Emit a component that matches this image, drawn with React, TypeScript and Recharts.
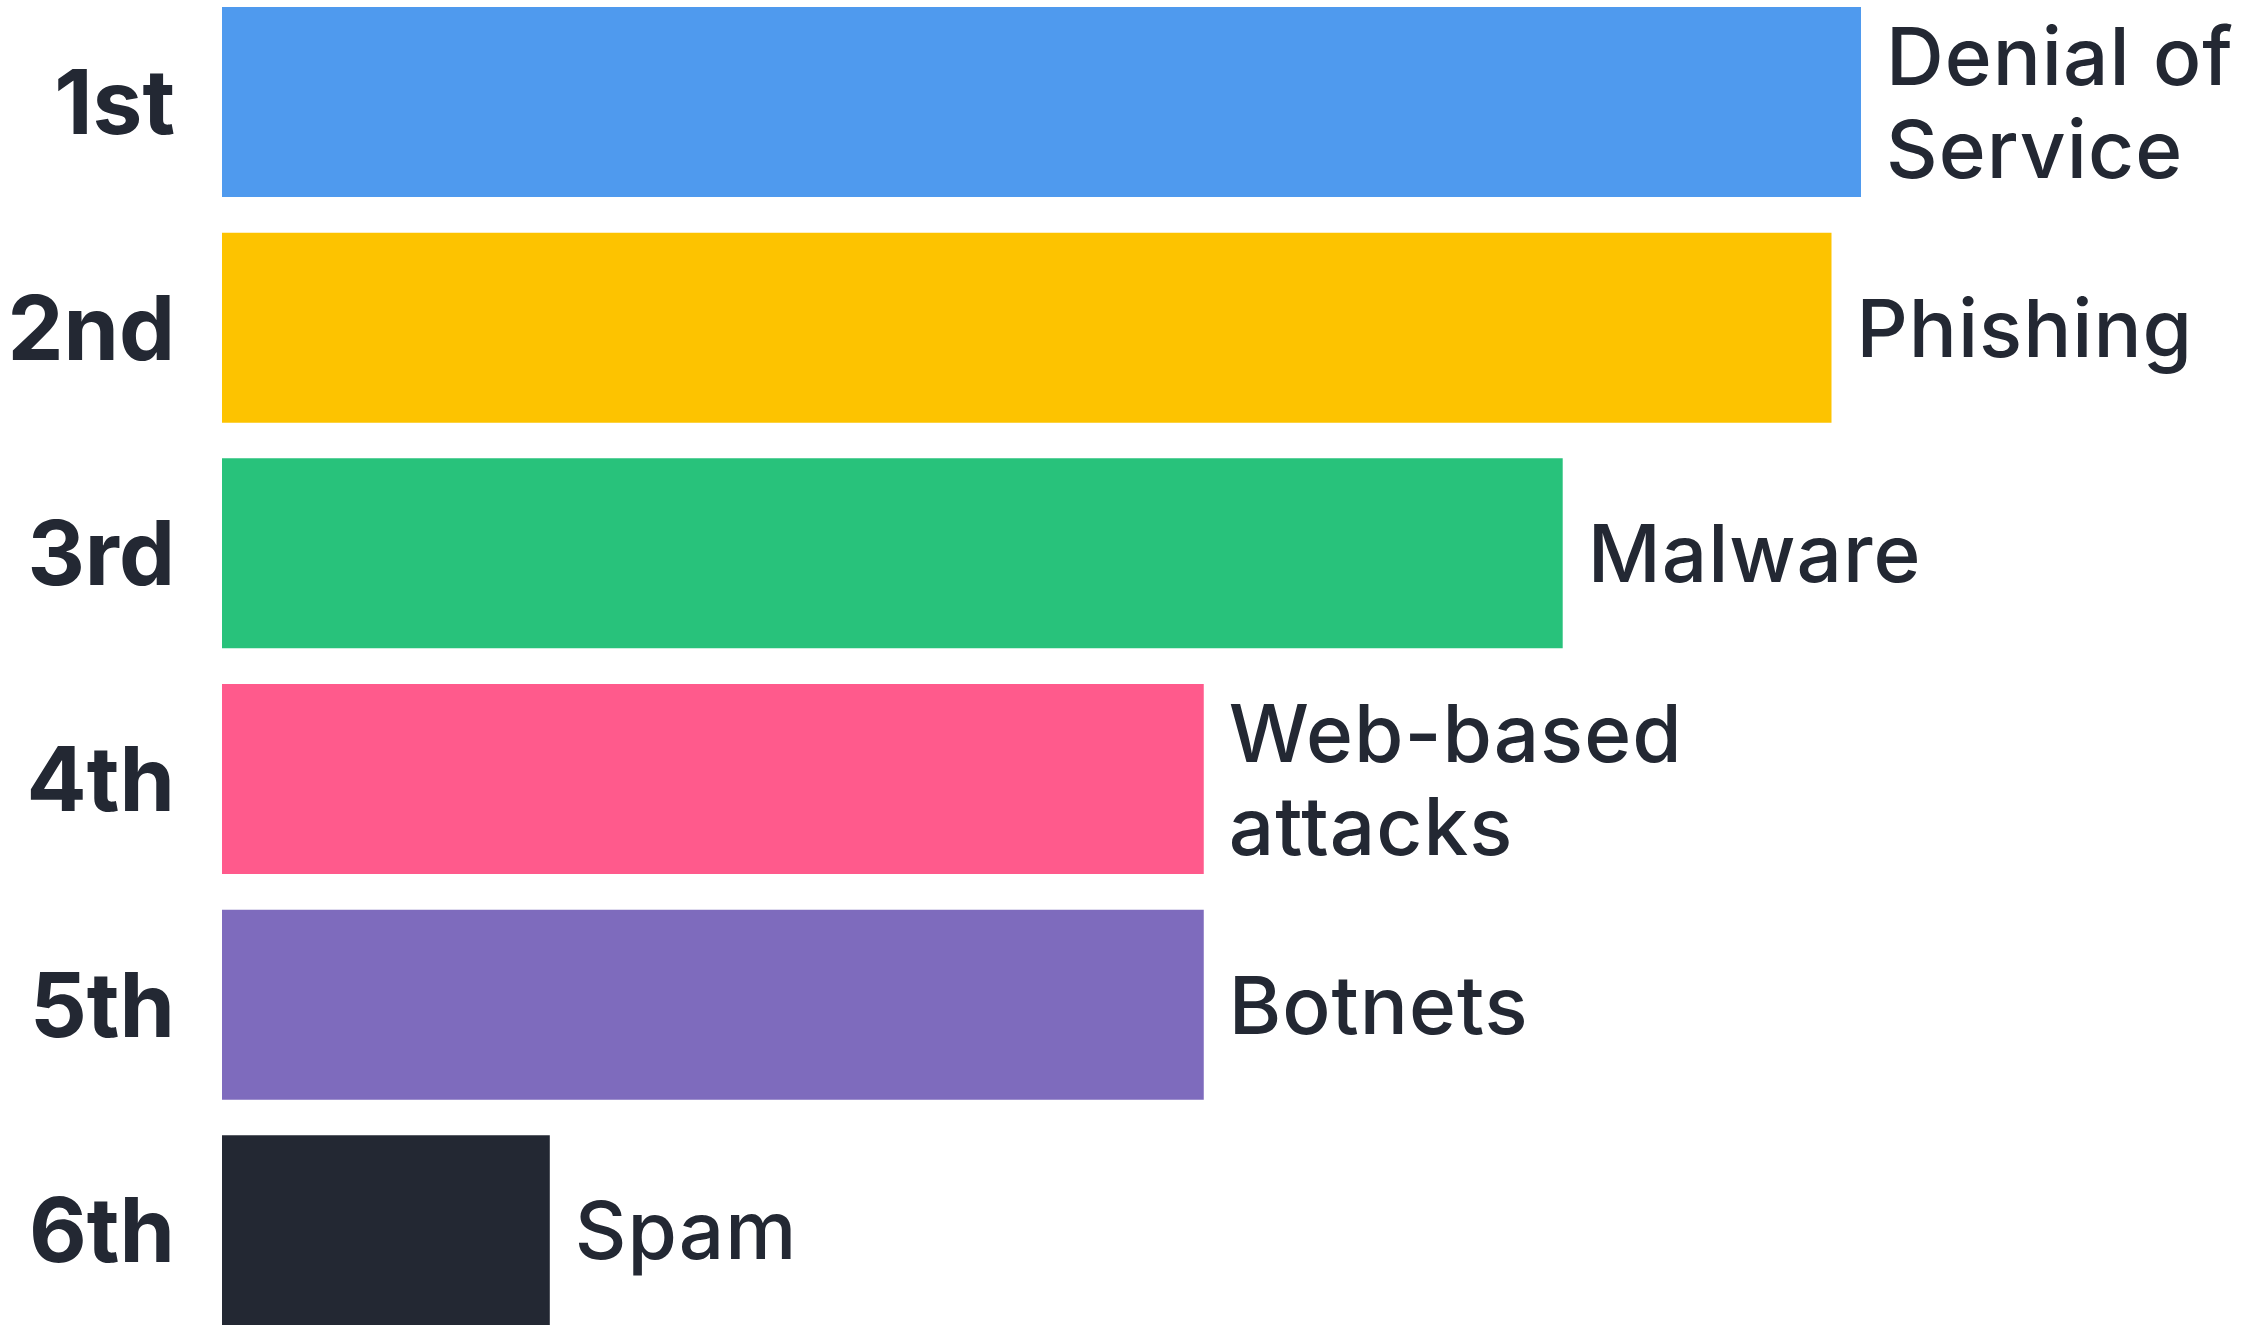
import { Bar, BarChart, Cell, LabelList, XAxis, YAxis } from "recharts";

const ranks = ["1st", "2nd", "3rd", "4th", "5th", "6th"];
const threats = [
    ["Denial of", "Service"],
    ["Phishing"],
    ["Malware"],
    ["Web-based", "attacks"],
    ["Botnets"],
    ["Spam"],
];
const scores = [100, 98.2, 81.8, 59.9, 59.9, 20];
const colors = ["#4f9aee", "#fdc300", "#28c27b", "#ff5a8c", "#7e6bbd", "#232833"];

const data = ranks.map((rank, i) => ({ rank, value: scores[i], index: i }));

const textColor = "#232833";
const font = "Inter, 'Noto Sans', sans-serif";

const RankTick = (props: any) => {
    const { y, payload } = props;
    return (
        <text x={175} y={y} dy={32} textAnchor="end" fill={textColor} fontFamily={font} fontSize={89} fontWeight={700}>
            {payload.value}
        </text>
    );
};

const ThreatLabel = (props: any) => {
    const { x, y, width, height, index } = props;
    const lines = threats[index];
    const cy = y + height / 2;
    const lx = x + width + 25;
    const baselines = lines.length === 1 ? [cy + 29] : [cy - 17.5, cy + 75.5];
    return (
        <text fill={textColor} fontFamily={font} fontSize={80} fontWeight={500} letterSpacing={1}>
            {lines.map((line, i) => (
                <tspan key={i} x={lx} y={baselines[i]}>
                    {line}
                </tspan>
            ))}
        </text>
    );
};

const App = () => {
    return (
        <div style={{ position: "absolute", left: 0, top: 0, width: 2254, height: 1325, overflow: "hidden", background: "#fff" }}>
            <div style={{ marginTop: -11 }}>
                <BarChart width={2254} height={1354} data={data} layout="vertical" margin={{ top: 0, right: 393, bottom: 0, left: 0 }}>
                    <XAxis type="number" domain={[0, 100]} hide />
                    <YAxis type="category" dataKey="rank" width={222} axisLine={false} tickLine={false} tick={<RankTick />} interval={0} />
                    <Bar dataKey="value" barSize={190} isAnimationActive={false}>
                        {data.map((d, i) => (
                            <Cell key={d.rank} fill={colors[i]} />
                        ))}
                        <LabelList dataKey="value" content={<ThreatLabel />} />
                    </Bar>
                </BarChart>
            </div>
        </div>
    );
};

export default App;
